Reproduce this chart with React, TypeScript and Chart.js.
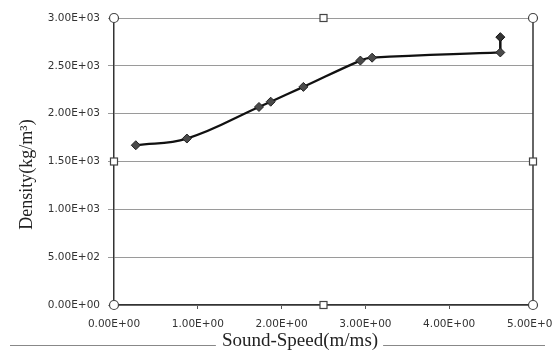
import { useEffect, useRef } from "react";
import { Chart, registerables } from "chart.js";

Chart.register(...registerables);

// Measured sound speed (m/ms) against density (kg/m^3)
const soundSpeed = [0.26, 0.87, 1.73, 1.87, 2.26, 2.94, 3.08, 4.61];
const density = [1670, 1740, 2070, 2125, 2280, 2555, 2585, 2640];

// Repeat reading at the highest sound speed
const repeatSpeed = [4.61, 4.61];
const repeatDensity = [2640, 2800];

const xTicks = [0, 1, 2, 3, 4, 5];
const yTicks = [0, 500, 1000, 1500, 2000, 2500, 3000];

const xTitle = "Sound-Speed(m/ms)";
const yTitle = "Density(kg/m\u00B3)";

// 1.00E+00 style scientific labels
function sci(v: number): string {
  const [mant, exp] = v.toExponential(2).split("e");
  const sign = exp[0] === "-" ? "-" : "+";
  const digits = exp.replace(/^[+-]/, "").padStart(2, "0");
  return `${mant}E${sign}${digits}`;
}

const frame = {
  id: "frame",
  afterDraw(chart: any) {
    const { ctx, chartArea: a } = chart;
    ctx.save();

    // right edge of the plot area
    ctx.strokeStyle = "#333";
    ctx.lineWidth = 1.5;
    ctx.beginPath();
    ctx.moveTo(a.right, a.top);
    ctx.lineTo(a.right, a.bottom);
    ctx.stroke();

    // selection handles: circles at corners, squares at mid-edges
    const midX = (a.left + a.right) / 2;
    const midY = (a.top + a.bottom) / 2;
    ctx.lineWidth = 1.2;
    ctx.strokeStyle = "#444";
    ctx.fillStyle = "#fff";
    for (const [cx, cy] of [
      [a.left, a.top],
      [a.right, a.top],
      [a.left, a.bottom],
      [a.right, a.bottom],
    ]) {
      ctx.beginPath();
      ctx.arc(cx, cy, 4.5, 0, Math.PI * 2);
      ctx.fill();
      ctx.stroke();
    }
    for (const [cx, cy] of [
      [midX, a.top],
      [midX, a.bottom],
      [a.left, midY],
      [a.right, midY],
    ]) {
      ctx.fillRect(cx - 3.5, cy - 3.5, 7, 7);
      ctx.strokeRect(cx - 3.5, cy - 3.5, 7, 7);
    }

    // y axis title
    ctx.fillStyle = "#222";
    ctx.font = "18px 'Liberation Serif', 'DejaVu Serif', serif";
    ctx.textAlign = "center";
    ctx.textBaseline = "middle";
    ctx.save();
    ctx.translate(a.left - 87, midY + 13);
    ctx.rotate(-Math.PI / 2);
    ctx.fillText(yTitle, 0, 0);
    ctx.restore();

    // x axis title with a rule running either side of it
    ctx.font = "19px 'Liberation Serif', 'DejaVu Serif', serif";
    const tx = 300;
    const ty = 341;
    const w = ctx.measureText(xTitle).width;
    ctx.fillText(xTitle, tx, ty);
    ctx.strokeStyle = "#888";
    ctx.lineWidth = 1;
    ctx.beginPath();
    ctx.moveTo(10, 345.5);
    ctx.lineTo(tx - w / 2 - 6, 345.5);
    ctx.moveTo(tx + w / 2 + 5, 345.5);
    ctx.lineTo(545, 345.5);
    ctx.stroke();

    ctx.restore();
  },
};

export default function App() {
  const ref = useRef<HTMLCanvasElement | null>(null);

  useEffect(() => {
    if (!ref.current) return;
    const tickFont = { family: "'DejaVu Sans', sans-serif", size: 10.5 };
    const chart = new Chart(ref.current, {
      type: "scatter",
      data: {
        datasets: [
          {
            data: soundSpeed.map((x, i) => ({ x, y: density[i] })),
            showLine: true,
            tension: 0.4,
            borderColor: "#111",
            borderWidth: 2.3,
            pointStyle: "rectRot",
            pointRadius: 4.5,
            pointBackgroundColor: "#4a4a4a",
            pointBorderColor: "#222",
            pointBorderWidth: 1,
          },
          {
            data: repeatSpeed.map((x, i) => ({ x, y: repeatDensity[i] })),
            showLine: true,
            tension: 0,
            borderColor: "#111",
            borderWidth: 2.5,
            pointStyle: "rectRot",
            pointRadius: [0, 4.5],
            pointBackgroundColor: "#333",
            pointBorderColor: "#111",
            pointBorderWidth: 1,
          },
        ],
      },
      options: {
        responsive: false,
        animation: false,
        layout: { padding: { top: 18, right: 20, left: 0, bottom: 0 } },
        plugins: {
          legend: { display: false },
          tooltip: { enabled: false },
        },
        scales: {
          x: {
            type: "linear",
            min: xTicks[0],
            max: xTicks[xTicks.length - 1],
            afterBuildTicks: (s: any) => {
              s.ticks = xTicks.map((v) => ({ value: v }));
            },
            afterFit: (s: any) => {
              s.height = 53;
              s.paddingLeft = 0;
              s.paddingRight = 0;
            },
            ticks: {
              callback: (v: any) => sci(Number(v)),
              font: tickFont,
              color: "#333",
              padding: 9,
              maxRotation: 0,
              autoSkip: false,
            },
            grid: {
              drawOnChartArea: false,
              drawTicks: true,
              tickLength: 4,
              color: "#555",
            },
            border: { display: true, color: "#333", width: 1.5 },
          },
          y: {
            type: "linear",
            min: yTicks[0],
            max: yTicks[yTicks.length - 1],
            afterBuildTicks: (s: any) => {
              s.ticks = yTicks.map((v) => ({ value: v }));
            },
            afterFit: (s: any) => {
              s.width = 114;
              s.paddingTop = 0;
              s.paddingBottom = 0;
            },
            ticks: {
              callback: (v: any) => sci(Number(v)),
              font: tickFont,
              color: "#333",
              padding: 8,
              autoSkip: false,
            },
            grid: {
              color: "#9a9a9a",
              lineWidth: 1,
              drawTicks: true,
              tickLength: 6,
            },
            border: { display: true, color: "#333", width: 1.5 },
          },
        },
      },
      plugins: [frame],
    });
    return () => chart.destroy();
  }, []);

  return (
    <div style={{ position: "fixed", left: 0, top: 0, width: 553, height: 358, background: "#fff" }}>
      <canvas ref={ref} width={553} height={358} />
    </div>
  );
}
